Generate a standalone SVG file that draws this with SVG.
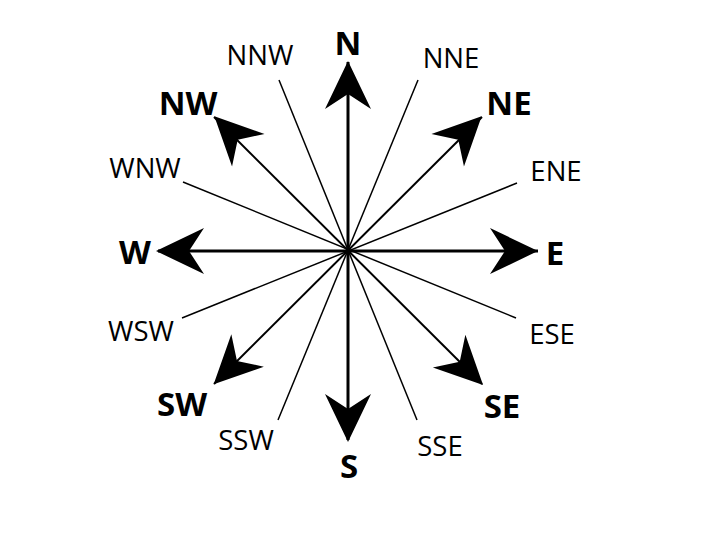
<svg xmlns="http://www.w3.org/2000/svg" xmlns:xlink="http://www.w3.org/1999/xlink" width="720" height="540" viewBox="0 0 720 540">
<style>
.bg{fill:#ffffff}
.main{stroke:#000;stroke-width:3;fill:none}
.diag{stroke:#000;stroke-width:2;fill:none}
.minor{stroke:#000;stroke-width:1.5;fill:none}
.head{fill:#000;stroke:none}
.big{font-family:"Open Sans","Liberation Sans",sans-serif;font-weight:bold;font-size:33px;fill:#000;text-anchor:middle}
.small{font-family:"Open Sans","Liberation Sans",sans-serif;font-size:27.5px;fill:#000;text-anchor:middle}
</style>
<defs>
<path id="arrow" class="head" d="M0,0 L23,48 L0,33 L-23,48 Z"/>
</defs>
<rect class="bg" x="0" y="0" width="720" height="540"/>
<g id="connectors">
<line class="minor" x1="279" y1="80" x2="417" y2="420"/>
<line class="minor" x1="418" y1="80" x2="278" y2="420"/>
<line class="minor" x1="183" y1="182" x2="516" y2="318"/>
<line class="minor" x1="517" y1="183" x2="182" y2="318"/>
<line class="diag" x1="482" y1="117" x2="214" y2="384"/>
<line class="diag" x1="214" y1="117" x2="482" y2="384"/>
<line class="main" x1="348" y1="62" x2="348" y2="440"/>
<line class="main" x1="158" y1="251" x2="538" y2="251"/>
<use xlink:href="#arrow" transform="translate(348,250) rotate(0) translate(0,-189)"/>
<use xlink:href="#arrow" transform="translate(348,250) rotate(45) translate(0,-189)"/>
<use xlink:href="#arrow" transform="translate(348,251) rotate(90) translate(0,-190)"/>
<use xlink:href="#arrow" transform="translate(348,250) rotate(135) translate(0,-191)"/>
<use xlink:href="#arrow" transform="translate(348,250) rotate(180) translate(0,-192)"/>
<use xlink:href="#arrow" transform="translate(348,250) rotate(225) translate(0,-190)"/>
<use xlink:href="#arrow" transform="translate(348,251) rotate(270) translate(0,-192)"/>
<use xlink:href="#arrow" transform="translate(348,250) rotate(315) translate(0,-189)"/>
</g>
<g id="N"><text class="big" x="348" y="55">N</text></g>
<g id="NE"><text class="big" x="509" y="115">NE</text></g>
<g id="E"><text class="big" x="555" y="265">E</text></g>
<g id="SE"><text class="big" x="502" y="418">SE</text></g>
<g id="S"><text class="big" x="349" y="478">S</text></g>
<g id="SW"><text class="big" x="182" y="416">SW</text></g>
<g id="W"><text class="big" x="135" y="264">W</text></g>
<g id="NW"><text class="big" x="188" y="115">NW</text></g>
<g id="NNE"><text class="small" x="451" y="68">NNE</text></g>
<g id="ENE"><text class="small" x="556" y="181">ENE</text></g>
<g id="ESE"><text class="small" x="552" y="344">ESE</text></g>
<g id="SSE"><text class="small" x="440" y="456">SSE</text></g>
<g id="SSW"><text class="small" x="246" y="450">SSW</text></g>
<g id="WSW"><text class="small" x="141" y="341">WSW</text></g>
<g id="WNW"><text class="small" x="145" y="178">WNW</text></g>
<g id="NNW"><text class="small" x="260" y="65">NNW</text></g>
</svg>
